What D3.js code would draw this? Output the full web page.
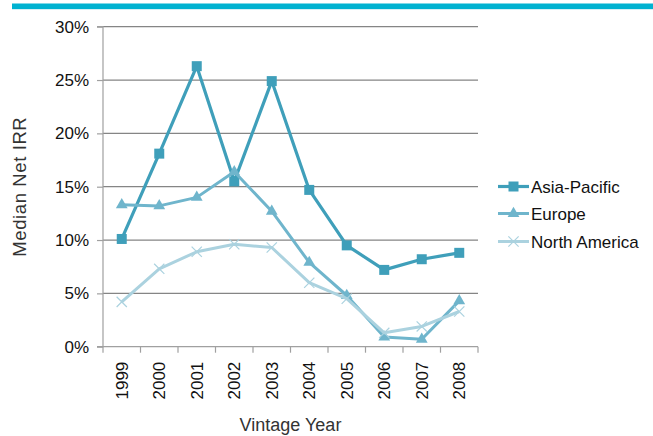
<!DOCTYPE html>
<html>
<head>
<meta charset="utf-8">
<script src="https://cdn.jsdelivr.net/npm/d3@7"></script>
<style>
  body { margin: 0; background: #fff; }
  svg { display: block; font-family: "Liberation Sans", Arial, sans-serif; }
</style>
</head>
<body>
<svg id="chart" width="653" height="436"></svg>
<script>
// data
const years = ['1999', '2000', '2001', '2002', '2003', '2004', '2005', '2006', '2007', '2008']
const asiaPacific = [10.1, 18.1, 26.3, 15.5, 24.9, 14.7, 9.5, 7.2, 8.2, 8.8]
const europe = [13.3, 13.2, 14.0, 16.4, 12.7, 7.9, 4.8, 0.9, 0.7, 4.3]
const northAmerica = [4.2, 7.3, 8.9, 9.6, 9.3, 6.0, 4.5, 1.3, 1.9, 3.3]
const yTicks = [0, 5, 10, 15, 20, 25, 30]

const series = [
  { name: 'Asia-Pacific', values: asiaPacific, color: '#3f9fba', marker: 'square', width: 3.2 },
  { name: 'Europe', values: europe, color: '#6fb5cc', marker: 'triangle', width: 3 },
  { name: 'North America', values: northAmerica, color: '#abd2df', marker: 'cross', width: 3 }
]

const svg = d3.select('#chart')
const margin = { top: 26.7, left: 103, right: 175, bottom: 89.3 }
const width = 653 - margin.left - margin.right
const height = 436 - margin.top - margin.bottom

// banner stripe at the top
svg.append('rect').attr('x', 12).attr('y', 3.5).attr('width', 641).attr('height', 5.5).attr('fill', '#00b2d1')
svg.append('rect').attr('x', 12).attr('y', 9).attr('width', 641).attr('height', 1).attr('fill', '#d3f0f6')

const g = svg.append('g').attr('transform', `translate(${margin.left},${margin.top})`)

const x = d3.scaleBand().domain(years).range([0, width])
const y = d3.scaleLinear().domain([0, 30]).range([height, 0])

// gridlines
g.selectAll('.grid')
  .data(yTicks.slice(1))
  .enter()
  .append('line')
  .attr('x1', 0)
  .attr('x2', width)
  .attr('y1', d => y(d))
  .attr('y2', d => y(d))
  .attr('stroke', '#858585')
  .attr('stroke-width', 1.2)

// y axis
const yAxis = g.append('g')
  .call(d3.axisLeft(y).tickValues(yTicks).tickFormat(d => d + '%').tickSize(6).tickPadding(8))
yAxis.select('.domain').attr('stroke', '#a0a0a0').attr('stroke-width', 1.2).attr('d', `M-6,${height}H0V0H-6`)
yAxis.selectAll('.tick line').attr('stroke', '#a0a0a0').attr('stroke-width', 1.2)
yAxis.selectAll('.tick text').attr('font-size', 17).attr('fill', '#111')

// x axis with ticks on the band edges
const xAxis = g.append('g').attr('transform', `translate(0,${height})`)
xAxis.append('line').attr('x1', 0).attr('x2', width).attr('stroke', '#a0a0a0').attr('stroke-width', 1.2)
xAxis.selectAll('.edge')
  .data(years.concat(['end']))
  .enter()
  .append('line')
  .attr('x1', (d, i) => i * x.step())
  .attr('x2', (d, i) => i * x.step())
  .attr('y1', 0)
  .attr('y2', 6)
  .attr('stroke', '#a0a0a0')
  .attr('stroke-width', 1.2)
xAxis.selectAll('.label')
  .data(years)
  .enter()
  .append('text')
  .attr('transform', d => `translate(${x(d) + x.bandwidth() / 2 + 6},15) rotate(-90)`)
  .attr('text-anchor', 'end')
  .attr('font-size', 17)
  .attr('fill', '#111')
  .text(d => d)

// axis titles
svg.append('text')
  .attr('x', margin.left + width / 2)
  .attr('y', 431)
  .attr('text-anchor', 'middle')
  .attr('font-size', 18)
  .attr('fill', '#333')
  .text('Vintage Year')
svg.append('text')
  .attr('transform', `translate(26,${margin.top + height / 2}) rotate(-90)`)
  .attr('text-anchor', 'middle')
  .attr('font-size', 18.5)
  .attr('letter-spacing', 0.6)
  .attr('fill', '#333')
  .text('Median Net IRR')

const symbolFor = m => m === 'square' ? d3.symbol(d3.symbolSquare, 100)
  : m === 'triangle' ? d3.symbol(d3.symbolTriangle, 60)
  : d3.symbol(d3.symbolTimes, 70)

const line = d3.line()
  .x((d, i) => x(years[i]) + x.bandwidth() / 2)
  .y(d => y(d))

series.forEach(s => {
  g.append('path')
    .attr('d', line(s.values))
    .attr('fill', 'none')
    .attr('stroke', s.color)
    .attr('stroke-width', s.width)
    .attr('stroke-linejoin', 'round')
  g.selectAll('.m-' + s.marker)
    .data(s.values)
    .enter()
    .append('path')
    .attr('d', symbolFor(s.marker))
    .attr('transform', (d, i) => `translate(${x(years[i]) + x.bandwidth() / 2},${y(d)})`)
    .attr('fill', s.marker === 'cross' ? 'none' : s.color)
    .attr('stroke', s.marker === 'cross' ? s.color : 'none')
    .attr('stroke-width', 1.2)
})

// legend
const legend = svg.append('g').attr('transform', 'translate(498,186.5)')
const rows = legend.selectAll('g')
  .data(series)
  .enter()
  .append('g')
  .attr('transform', (d, i) => `translate(0,${[0, 27, 55][i]})`)
rows.append('line')
  .attr('x1', 0)
  .attr('x2', 31)
  .attr('stroke', d => d.color)
  .attr('stroke-width', d => d.width)
rows.append('path')
  .attr('d', d => symbolFor(d.marker)())
  .attr('transform', 'translate(15.5,0)')
  .attr('fill', d => d.marker === 'cross' ? 'none' : d.color)
  .attr('stroke', d => d.marker === 'cross' ? d.color : 'none')
  .attr('stroke-width', 1.2)
rows.append('text')
  .attr('x', 33)
  .attr('dy', '0.36em')
  .attr('font-size', 17)
  .attr('fill', '#111')
  .text(d => d.name)
</script>
</body>
</html>
